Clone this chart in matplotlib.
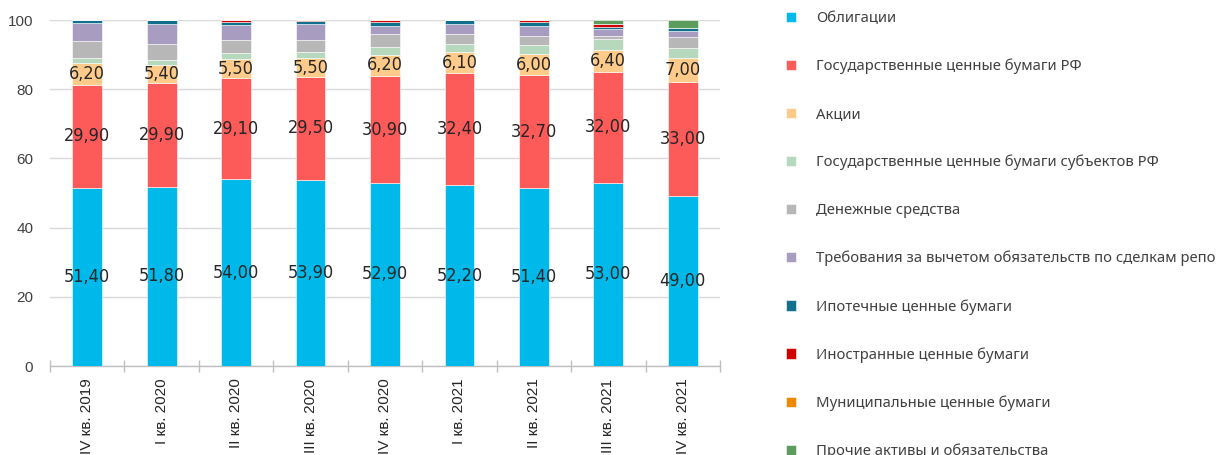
import matplotlib
matplotlib.use("Agg")
import matplotlib.pyplot as plt
import numpy as np

categories = ["IV кв. 2019", "I кв. 2020", "II кв. 2020", "III кв. 2020", "IV кв. 2020",
              "I кв. 2021", "II кв. 2021", "III кв. 2021", "IV кв. 2021"]

bonds = [51.4, 51.8, 54.0, 53.9, 52.9, 52.2, 51.4, 53.0, 49.0]
gov_rf = [29.9, 29.9, 29.1, 29.5, 30.9, 32.4, 32.7, 32.0, 33.0]
shares = [6.2, 5.4, 5.5, 5.5, 6.2, 6.1, 6.0, 6.4, 7.0]
regional = [1.6, 1.4, 1.8, 1.8, 2.3, 2.3, 2.8, 3.0, 3.0]
cash = [4.9, 4.7, 3.7, 3.4, 3.6, 3.0, 2.5, 1.1, 3.0]
repo = [5.0, 5.7, 4.5, 4.6, 2.4, 2.8, 2.9, 2.0, 1.8]
mortgage = [1.0, 1.1, 0.9, 0.9, 1.0, 1.1, 1.0, 0.6, 1.0]
foreign = [0.0, 0.0, 0.5, 0.4, 0.7, 0.1, 0.7, 0.6, 0.0]
municipal = [0.0, 0.0, 0.0, 0.0, 0.0, 0.0, 0.0, 0.0, 0.0]
other = [0.0, 0.0, 0.0, 0.0, 0.0, 0.0, 0.0, 1.3, 2.2]

series_names = ["Облигации", "Государственные ценные бумаги РФ", "Акции",
                "Государственные ценные бумаги субъектов РФ", "Денежные средства",
                "Требования за вычетом обязательств по сделкам репо",
                "Ипотечные ценные бумаги", "Иностранные ценные бумаги",
                "Муниципальные ценные бумаги", "Прочие активы и обязательства"]
series_values = [bonds, gov_rf, shares, regional, cash, repo, mortgage, foreign, municipal, other]
colors = ["#00B9EB", "#FD5A5A", "#FFCB8A", "#B6D8BC", "#B7B7B7", "#A89CC0",
          "#10708E", "#D00000", "#EE8800", "#5C9C5C"]
labeled = [0, 1, 2]

fig = plt.figure(figsize=(12.2, 4.55), dpi=100)
ax = fig.add_axes([50/1220, 1-366/455, 670/1220, 346/455])

x = np.arange(len(categories))
bottom = np.zeros(len(categories))
handles = []
for i, (name, vals, col) in enumerate(zip(series_names, series_values, colors)):
    vals = np.array(vals)
    b = ax.bar(x, vals, width=0.4, bottom=bottom, color=col, edgecolor="#FFFFFF",
               linewidth=0.4, label=name, zorder=3)
    handles.append(b)
    if i in labeled:
        for xi, v, bt in zip(x, vals, bottom):
            ax.text(xi, bt + v/2, f"{v:.2f}".replace(".", ","), ha="center", va="center",
                    fontsize=13, color="#262626", family="DejaVu Sans",
                    fontstretch="condensed", zorder=4)
    bottom += vals

ax.set_xlim(-0.5, len(categories) - 0.5)
ax.set_ylim(0, 100)
ax.set_yticks([0, 20, 40, 60, 80, 100])
ax.yaxis.grid(True, color="#D9D9D9", linewidth=1.0, zorder=0)
ax.set_axisbelow(True)
for s in ["left", "right", "top"]:
    ax.spines[s].set_visible(False)
ax.spines["bottom"].set_color("#BFBFBF")
ax.spines["bottom"].set_linewidth(1.0)
ax.tick_params(axis="y", length=0, pad=12, labelsize=11, labelcolor="#404040")
for lab in ax.get_yticklabels():
    lab.set_family(["Liberation Sans", "DejaVu Sans"])

ax.set_xticks(x)
ax.set_xticklabels(categories, rotation=90, fontsize=11, color="#262626",
                   family=["Liberation Sans", "DejaVu Sans"])
ax.tick_params(axis="x", which="major", length=0, pad=9)
ax.set_xticks(np.arange(-0.5, len(categories), 1.0), minor=True)
ax.tick_params(axis="x", which="minor", direction="inout", length=8, color="#BFBFBF", width=1.0)

leg = fig.legend(handles=handles, labels=series_names, loc="upper left",
                 bbox_to_anchor=(786/1220, 1 - 11/455), frameon=False,
                 handlelength=0.7, handleheight=0.7, handletextpad=1.35,
                 labelspacing=2.2, borderaxespad=0, borderpad=0,
                 prop={"family": ["Noto Sans", "DejaVu Sans"], "size": 10.7})
for t in leg.get_texts():
    t.set_color("#404040")

fig.savefig("out.png", dpi=100)
